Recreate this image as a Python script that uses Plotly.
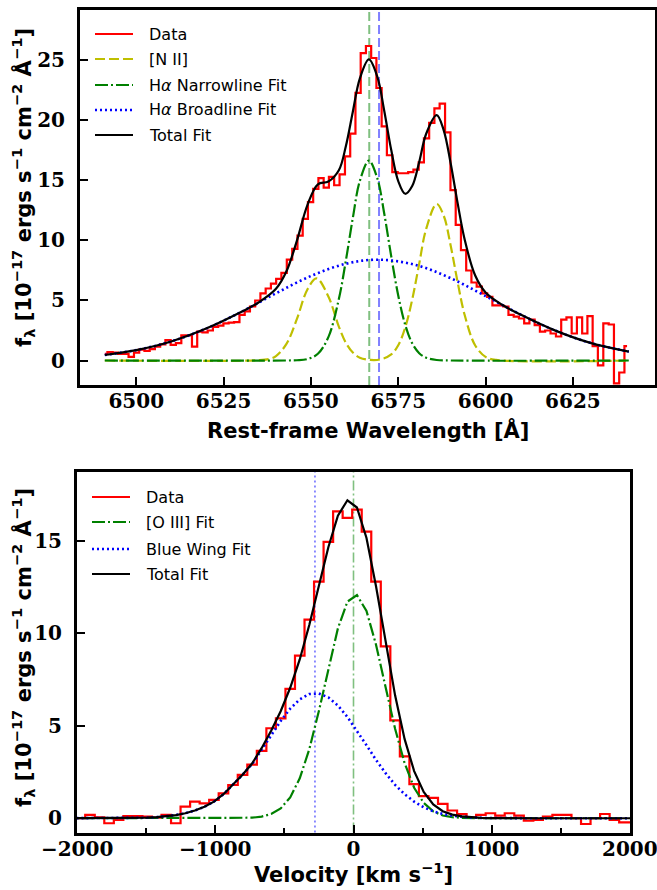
import plotly.graph_objects as go

FIG_W, FIG_H = 657, 890

# ---------------- H-alpha + [N II] complex (rest-frame wavelength) ----------------
wave = [
    6491.0, 6492.5, 6494.0, 6495.5, 6497.0, 6498.6, 6500.1, 6501.6, 6503.1, 6504.6,
    6506.1, 6507.6, 6509.1, 6510.6, 6512.1, 6513.7, 6515.2, 6516.7, 6518.2, 6519.7,
    6521.2, 6522.7, 6524.2, 6525.7, 6527.2, 6528.8, 6530.3, 6531.8, 6533.3, 6534.8,
    6536.3, 6537.8, 6539.3, 6540.8, 6542.3, 6543.9, 6545.4, 6546.9, 6548.4, 6549.9,
    6551.4, 6552.9, 6554.4, 6555.9, 6557.4, 6559.0, 6560.5, 6562.0, 6563.5, 6565.0,
    6566.5, 6568.0, 6569.5, 6571.0, 6572.5, 6574.1, 6575.6, 6577.1, 6578.6, 6580.1,
    6581.6, 6583.1, 6584.6, 6586.1, 6587.6, 6589.2, 6590.7, 6592.2, 6593.7, 6595.2,
    6596.7, 6598.2, 6599.7, 6601.2, 6602.7, 6604.3, 6605.8, 6607.3, 6608.8, 6610.3,
    6611.8, 6613.3, 6614.8, 6616.3, 6617.8, 6619.4, 6620.9, 6622.4, 6623.9, 6625.4,
    6626.9, 6628.4, 6629.9, 6631.4, 6632.9, 6634.5, 6636.0, 6637.5, 6639.0, 6640.5,
]
flux_ha = [
    0.55, 0.70, 0.65, 0.55, 0.55, 0.30, 0.65, 0.90, 0.80, 0.95,
    1.15, 1.35, 1.70, 1.30, 1.45, 2.10, 2.10, 1.15, 2.40, 2.35,
    2.50, 2.80, 2.90, 3.10, 3.15, 3.20, 3.80, 4.10, 4.50, 5.00,
    5.60, 6.00, 6.40, 6.80, 7.30, 8.40, 9.30, 10.40, 11.80, 13.20,
    14.30, 15.20, 14.40, 15.30, 14.60, 15.50, 17.00, 18.90, 22.30, 25.60,
    26.20, 25.20, 22.70, 19.50, 17.10, 15.70, 15.60, 15.60, 15.70, 15.90,
    16.50, 18.50, 19.80, 21.00, 21.40, 19.00, 14.20, 11.30, 9.20, 7.50,
    6.50, 6.15, 5.60, 5.30, 4.60, 4.60, 4.50, 3.80, 3.65, 3.50,
    3.10, 3.40, 2.95, 2.40, 2.50, 2.25, 2.00, 3.40, 3.60, 2.25,
    3.60, 2.25, 3.70, 1.20, -0.40, 3.10, 3.00, -1.90, -1.00, 1.20,
]

# [N II] doublet model
nii_wave = [6491, 6535, 6538, 6540, 6543, 6546, 6549, 6551.6, 6555, 6558, 6560, 6562,
            6564, 6567, 6570, 6573, 6575, 6577, 6579, 6581, 6583, 6586, 6588, 6590,
            6592, 6594, 6597, 6600, 6603, 6641]
nii_fit = [0.0, 0.02, 0.12, 0.37, 1.38, 3.47, 5.92, 6.85, 5.33, 2.82, 1.48, 0.66,
           0.24, 0.05, 0.10, 0.51, 1.27, 2.75, 5.08, 8.06, 10.97, 13.04, 12.08, 9.58,
           6.53, 3.81, 1.27, 0.30, 0.05, 0.0]

# H-alpha narrow component
narrow_wave = [6491, 6543, 6546, 6549, 6552, 6555, 6558, 6560, 6562, 6564, 6566.6,
               6569, 6571, 6573, 6575, 6577, 6579, 6581, 6583, 6586, 6590, 6641]
narrow_fit = [0.0, 0.0, 0.02, 0.12, 0.56, 1.95, 5.12, 8.31, 11.88, 14.95, 16.65,
              15.19, 12.23, 8.67, 5.41, 2.97, 1.43, 0.61, 0.23, 0.04, 0.0, 0.0]

# H-alpha broad component
broad_wave = [6491, 6500, 6510, 6520, 6530, 6540, 6550, 6560, 6569.3, 6580, 6590,
              6600, 6610, 6620, 6630, 6641]
broad_fit = [0.46, 0.87, 1.59, 2.66, 4.04, 5.60, 7.04, 8.06, 8.40, 7.96, 6.86,
             5.37, 3.83, 2.49, 1.47, 0.74]

# total model
total_wave = [6491, 6500, 6510, 6520, 6530, 6535, 6540, 6543, 6546, 6549, 6552, 6555,
              6558, 6560, 6562, 6564, 6566.6, 6569, 6571, 6573, 6575, 6577, 6579,
              6581, 6583, 6586, 6588, 6590, 6592, 6594, 6597, 6600, 6605, 6610,
              6620, 6630, 6641]
total_fit = [0.46, 0.87, 1.59, 2.66, 4.04, 4.83, 5.97, 7.43, 9.99, 12.95, 14.68, 14.91,
             15.85, 17.85, 20.73, 23.48, 25.08, 23.65, 20.79, 17.53, 14.95, 13.89, 14.54,
             16.54, 18.89, 20.44, 19.20, 16.44, 13.11, 10.10, 7.10, 5.67, 4.60, 3.83,
             2.49, 1.47, 0.74]

narrow_center = 6566.7
broad_center = 6569.5

# ---------------- [O III] profile (velocity space) ----------------
vel = [-2114, -2045, -1976, -1907, -1838, -1769, -1700, -1631, -1562, -1493,
       -1424, -1355, -1286, -1217, -1148, -1079, -1010, -941, -872, -803,
       -734, -665, -596, -527, -458, -389, -320, -251, -182, -113,
       -44, 25, 94, 163, 232, 301, 370, 439, 508, 577,
       646, 715, 784, 853, 922, 991, 1060, 1129, 1198, 1267,
       1336, 1405, 1474, 1543, 1612, 1681, 1750, 1819, 1888, 1957, 2026]
flux_oiii = [-0.05, -0.05, 0.00, 0.18, 0.05, -0.27, -0.09, 0.12, 0.12, 0.09,
             0.03, 0.18, -0.27, 0.63, 0.90, 0.81, 0.99, 1.35, 1.80, 2.35,
             2.90, 3.65, 4.87, 5.40, 7.00, 8.80, 10.74, 12.80, 14.95, 16.60,
             16.25, 16.69, 15.50, 12.80, 9.30, 5.30, 3.35, 1.85, 1.20, 1.10,
             0.78, 0.42, 0.22, 0.05, 0.18, 0.27, 0.14, 0.27, 0.14, -0.13,
             -0.09, 0.09, 0.18, 0.18, 0.00, -0.31, 0.00, 0.23, -0.09, -0.22, -0.22]
oiii_fit = [0.0, 0.0, 0.0, 0.0, 0.0, 0.0, 0.0, 0.0, 0.0, 0.0,
            0.0, 0.0, 0.0, 0.0, 0.0, 0.0, 0.0, 0.0, 0.0, 0.0,
            0.03, 0.09, 0.23, 0.53, 1.13, 2.16, 3.73, 5.79, 8.12, 10.27,
            11.72, 12.07, 11.21, 9.39, 7.10, 4.84, 2.98, 1.65, 0.83, 0.37,
            0.15, 0.06, 0.02, 0.0, 0.0, 0.0, 0.0, 0.0, 0.0, 0.0,
            0.0, 0.0, 0.0, 0.0, 0.0, 0.0, 0.0, 0.0, 0.0, 0.0, 0.0]
wing_fit = [0.0, 0.0, 0.0, 0.0, 0.0, 0.0, 0.0, 0.0, 0.01, 0.03,
            0.06, 0.10, 0.17, 0.27, 0.42, 0.62, 0.90, 1.30, 1.80, 2.35,
            2.93, 3.70, 4.50, 5.26, 5.93, 6.43, 6.72, 6.75, 6.54, 6.10,
            5.48, 4.74, 3.95, 3.16, 2.44, 1.81, 1.30, 0.90, 0.59, 0.38,
            0.23, 0.14, 0.08, 0.04, 0.02, 0.01, 0.0, 0.0, 0.0, 0.0,
            0.0, 0.0, 0.0, 0.0, 0.0, 0.0, 0.0, 0.0, 0.0, 0.0, 0.0]
oiii_total = [0.0, 0.0, 0.0, 0.0, 0.0, 0.0, 0.0, 0.0, 0.01, 0.03,
              0.06, 0.10, 0.17, 0.27, 0.42, 0.62, 0.90, 1.30, 1.80, 2.35,
              2.96, 3.79, 4.73, 5.79, 7.06, 8.59, 10.45, 12.54, 14.66, 16.37,
              17.20, 16.81, 15.16, 12.55, 9.54, 6.65, 4.28, 2.55, 1.42, 0.75,
              0.38, 0.20, 0.10, 0.04, 0.02, 0.01, 0.0, 0.0, 0.0, 0.0,
              0.0, 0.0, 0.0, 0.0, 0.0, 0.0, 0.0, 0.0, 0.0, 0.0, 0.0]

oiii_center = 0
wing_center = -279

# ---------------- styling ----------------
RED, OLIVE, GREEN, BLUE, BLACK = "#ff0000", "#bfbf00", "#008000", "#0000ff", "#000000"
LIGHT_GREEN, LIGHT_BLUE = "#80c080", "#8080ff"
DASH = "10px,4px"
DASHDOT = "13px,3px,2px,3px"
DOT = "2px,3px"
LW = 2.2


def fx(px):
    return px / FIG_W


def fy(py):
    return 1 - py / FIG_H


fig = go.Figure()

# upper panel
fig.add_trace(go.Scatter(x=wave, y=flux_ha, mode="lines", xaxis="x", yaxis="y",
                         line=dict(color=RED, width=LW, shape="hvh"), name="Data"))
fig.add_trace(go.Scatter(x=nii_wave, y=nii_fit, mode="lines", xaxis="x", yaxis="y",
                         line=dict(color=OLIVE, width=LW, dash=DASH, shape="spline"), name="[N II]"))
fig.add_trace(go.Scatter(x=narrow_wave, y=narrow_fit, mode="lines", xaxis="x", yaxis="y",
                         line=dict(color=GREEN, width=LW, dash=DASHDOT, shape="spline"),
                         name="Hα Narrowline Fit"))
fig.add_trace(go.Scatter(x=broad_wave, y=broad_fit, mode="lines", xaxis="x", yaxis="y",
                         line=dict(color=BLUE, width=LW + 0.4, dash=DOT, shape="spline"),
                         name="Hα Broadline Fit"))
fig.add_trace(go.Scatter(x=total_wave, y=total_fit, mode="lines", xaxis="x", yaxis="y",
                         line=dict(color=BLACK, width=LW, shape="spline"), name="Total Fit"))

# lower panel
fig.add_trace(go.Scatter(x=vel, y=flux_oiii, mode="lines", xaxis="x2", yaxis="y2",
                         line=dict(color=RED, width=LW, shape="hvh"), name="Data"))
fig.add_trace(go.Scatter(x=vel, y=oiii_fit, mode="lines", xaxis="x2", yaxis="y2",
                         line=dict(color=GREEN, width=LW, dash=DASHDOT), name="[O III] Fit"))
fig.add_trace(go.Scatter(x=vel, y=wing_fit, mode="lines", xaxis="x2", yaxis="y2",
                         line=dict(color=BLUE, width=LW + 0.4, dash=DOT), name="Blue Wing Fit"))
fig.add_trace(go.Scatter(x=vel, y=oiii_total, mode="lines", xaxis="x2", yaxis="y2",
                         line=dict(color=BLACK, width=LW), name="Total Fit"))

shapes = [
    dict(type="line", xref="x", yref="y domain", x0=narrow_center, x1=narrow_center, y0=0, y1=1,
         line=dict(color=LIGHT_GREEN, width=2, dash="9px,4px"), layer="below"),
    dict(type="line", xref="x", yref="y domain", x0=broad_center, x1=broad_center, y0=0, y1=1,
         line=dict(color=LIGHT_BLUE, width=2, dash="9px,4px"), layer="below"),
    dict(type="line", xref="x2", yref="y2 domain", x0=wing_center, x1=wing_center, y0=0, y1=1,
         line=dict(color=LIGHT_BLUE, width=1.8, dash=DOT), layer="below"),
    dict(type="line", xref="x2", yref="y2 domain", x0=oiii_center, x1=oiii_center, y0=0, y1=1,
         line=dict(color=LIGHT_GREEN, width=1.6, dash="10px,3px,2px,3px"), layer="below"),
]

annotations = []
LEG_FONT = dict(family="DejaVu Sans", size=16, color="black")


def legend_block(rows, x_line0, x_line1, x_text):
    for label, color, dash, y in rows:
        w = LW + 0.4 if dash == DOT else LW
        shapes.append(dict(type="line", xref="paper", yref="paper", x0=fx(x_line0), x1=fx(x_line1),
                           y0=fy(y), y1=fy(y), line=dict(color=color, width=w, dash=dash)))
        annotations.append(dict(xref="paper", yref="paper", x=fx(x_text), y=fy(y), text=label,
                                showarrow=False, xanchor="left", yanchor="middle", font=LEG_FONT))


legend_block([
    ("Data", RED, "solid", 34),
    ("[N II]", OLIVE, DASH, 59),
    ("H<i>α</i> Narrowline Fit", GREEN, DASHDOT, 85),
    ("H<i>α</i> Broadline Fit", BLUE, DOT, 110),
    ("Total Fit", BLACK, "solid", 135),
], 95, 133, 147)

legend_block([
    ("Data", RED, "solid", 497),
    ("[O III] Fit", GREEN, DASHDOT, 522),
    ("Blue Wing Fit", BLUE, DOT, 549),
    ("Total Fit", BLACK, "solid", 574),
], 92, 130, 144)

TITLE_FONT = dict(family="DejaVu Sans", size=21, color="black", weight="bold")
YTITLE_FONT = dict(family="DejaVu Sans", size=21, color="black", weight="bold")
ytitle = "f<sub>λ</sub> [10<sup>−17</sup> ergs s<sup>−1</sup> cm<sup>−2</sup> Å<sup>−1</sup>]"

annotations += [
    dict(xref="paper", yref="paper", x=fx(367.5), y=fy(430), text="Rest-frame Wavelength [Å]",
         showarrow=False, xanchor="center", yanchor="middle", font=TITLE_FONT),
    dict(xref="paper", yref="paper", x=fx(353.5), y=fy(873), text="Velocity [km s<sup>−1</sup>]",
         showarrow=False, xanchor="center", yanchor="middle", font=TITLE_FONT),
    dict(xref="paper", yref="paper", x=fx(23), y=fy(188), text=ytitle, textangle=-90,
         showarrow=False, xanchor="center", yanchor="middle", font=YTITLE_FONT),
    dict(xref="paper", yref="paper", x=fx(23), y=fy(648), text=ytitle, textangle=-90,
         showarrow=False, xanchor="center", yanchor="middle", font=YTITLE_FONT),
]

axis_style = dict(showline=True, linecolor="black", linewidth=3, mirror=True,
                  ticks="inside", ticklen=8, tickwidth=2, tickcolor="black",
                  showgrid=False, zeroline=False, automargin=False, ticklabeloverflow="allow",
                  tickfont=dict(family="DejaVu Serif", size=20, color="black", weight="bold"))

fig.update_layout(
    width=FIG_W, height=FIG_H,
    margin=dict(l=0, r=0, t=0, b=0, autoexpand=False),
    paper_bgcolor="white", plot_bgcolor="white",
    showlegend=False,
    xaxis=dict(domain=[fx(80), fx(655)], range=[6483.9, 6648.5], anchor="y",
               tickvals=[6500, 6525, 6550, 6575, 6600, 6625], ticklabelstandoff=-4, **axis_style),
    yaxis=dict(domain=[fy(385), fy(10)], range=[-2.04, 29.2], anchor="x",
               tickvals=[0, 5, 10, 15, 20, 25], ticklabelstandoff=8, **axis_style),
    xaxis2=dict(domain=[fx(77), fx(630)], range=[-2001, 2001], anchor="y2",
                tickvals=[-2000, -1000, 0, 1000, 2000], ticklabelstandoff=-4,
                minor=dict(tickvals=[-1500, -500, 500, 1500], ticks="inside", ticklen=5,
                           tickwidth=2, tickcolor="black"),
                **axis_style),
    yaxis2=dict(domain=[fy(832.5), fy(472)], range=[-0.77, 18.73], anchor="x2",
                tickvals=[0, 5, 10, 15], ticklabelstandoff=8, **axis_style),
    shapes=shapes,
    annotations=annotations,
)

fig.write_html("out.html")
